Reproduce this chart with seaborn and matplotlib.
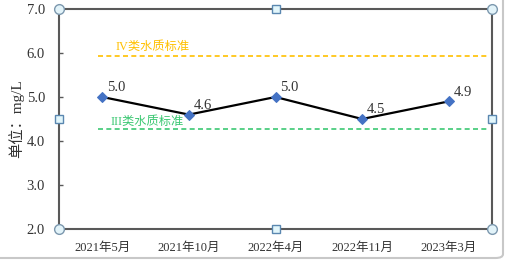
import matplotlib
matplotlib.use("Agg")
import matplotlib.pyplot as plt
import seaborn as sns
import pandas as pd
from matplotlib.patches import FancyBboxPatch

months = ["2021年5月", "2021年10月", "2022年4月", "2022年11月", "2023年3月"]
values = [5.0, 4.6, 5.0, 4.5, 4.9]
std_iv = 5.93
std_iii = 4.27
yticks = [2.0, 3.0, 4.0, 5.0, 6.0, 7.0]

sns.set_theme(style="white")
plt.rcParams['font.family'] = ['Liberation Serif', 'Noto Sans CJK SC', 'DejaVu Sans']

df = pd.DataFrame({"month": months, "value": values})

fig = plt.figure(figsize=(5.05, 2.61), dpi=100)
ax = fig.add_axes([59/505, 1-229/261, (492-59)/505, (229-9)/261])

sns.lineplot(data=df, x="month", y="value", ax=ax, color="black", lw=1.6,
             marker="D", markersize=5.5, markerfacecolor="#4472C4",
             markeredgecolor="#4472C4", sort=False, zorder=4)

ax.set_xlim(-0.5, len(months) - 0.5)
ax.set_ylim(2.0, 7.0)
ax.set_yticks(yticks)
ax.set_yticklabels([f"{v:.1f}" for v in yticks], fontsize=10.5, color="#333333")
ax.tick_params(axis='y', direction='in', length=3, width=1, color="#595959", pad=10, left=True)
ax.tick_params(axis='x', length=0, pad=9, labelsize=9, labelcolor="#333333")
ax.set_xlabel("")
ax.set_ylabel("单位：mg/L", fontsize=11, color="#333333")
ax.yaxis.set_label_coords(-35/433, 0.5)

for s in ax.spines.values():
    s.set_color("#595959")
    s.set_linewidth(1.5)

xmin, xmax = (98-59)/433, (489-59)/433
ax.axhline(std_iv, xmin=xmin, xmax=xmax, color="#FFC000", lw=1.2, ls=(0, (3, 2)), zorder=2)
ax.axhline(std_iii, xmin=xmin, xmax=xmax, color="#3CC873", lw=1.2, ls=(0, (3, 2)), zorder=2)
ax.text(xmin + 0.04, std_iv + 0.08, "IV类水质标准", transform=ax.get_yaxis_transform(),
        color="#FFC000", fontsize=8.8, va="bottom", ha="left")
ax.text(xmin + 0.03, std_iii + 0.03, "III类水质标准", transform=ax.get_yaxis_transform(),
        color="#3CC873", fontsize=8.8, va="bottom", ha="left")

for i, v in enumerate(values):
    ax.annotate(f"{v:.1f}", (i, v), xytext=(10, 2), textcoords="offset points",
                ha="center", va="bottom", fontsize=10.5, color="#333333")

# selection handles
for (hx, hy) in [(0, 0), (0, 1), (1, 0), (1, 1)]:
    ax.plot(hx, hy, marker="o", markersize=7, markerfacecolor="#E2F3F9",
            markeredgecolor="#7C98AE", markeredgewidth=1, transform=ax.transAxes,
            clip_on=False, zorder=6)
for (hx, hy) in [(0.5, 0), (0.5, 1), (0, 0.5), (1, 0.5)]:
    ax.plot(hx, hy, marker="s", markersize=5.5, markerfacecolor="#E2F6FB",
            markeredgecolor="#5A87B0", markeredgewidth=1, transform=ax.transAxes,
            clip_on=False, zorder=6)

frame = FancyBboxPatch((-10/505, 3/261), 513/505, 300/261,
                       boxstyle="round,pad=0,rounding_size=0.015",
                       transform=fig.transFigure, facecolor="none",
                       edgecolor="#C8C8C8", lw=1.5)
fig.patches.append(frame)

fig.savefig("out.png", dpi=100)
